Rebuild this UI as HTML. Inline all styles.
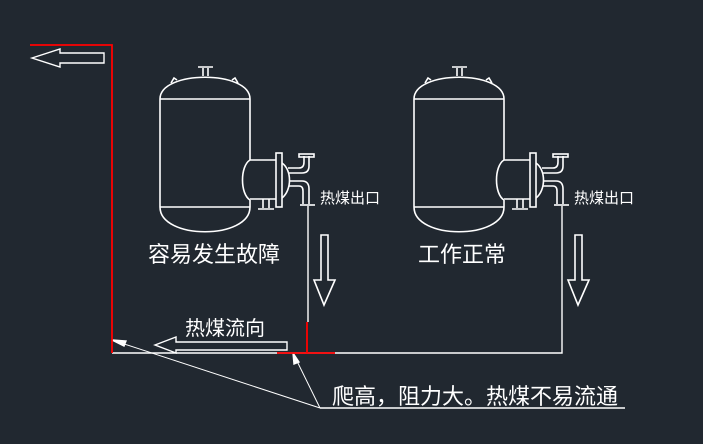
<!DOCTYPE html>
<html><head><meta charset="utf-8"><style>
html,body{margin:0;padding:0;background:#212830;}
svg{display:block}
text{font-family:"Liberation Sans","Noto Sans CJK SC","WenQuanYi Zen Hei",sans-serif;fill:#fff;font-weight:400}
</style></head><body>
<svg width="703" height="444" viewBox="0 0 703 444" xmlns="http://www.w3.org/2000/svg">
<rect width="703" height="444" fill="#212830"/>
<defs>
<g id="tank" fill="none" stroke="#fff" stroke-width="1.6">
  <path d="M414,99 L414,207 M504,99 L504,160 M504,200 L504,207"/>
  <path d="M414,99 C414,70 504,70 504,99"/>
  <path d="M414,207 C414,240 504,240 504,207"/>
  <path d="M414,99 L504,99 M414,207 L504,207"/>
  <path d="M457,76 L457,68 M462,76 L462,68 M452,67 L467,67"/>
  <path d="M425,83 L428,78 L431,80 M486,80 L489,78 L492,83"/>
  <path d="M504,160 C494,166 494,194 504,200"/>
  <path d="M504,160 L530,160 M504,199 L530,199"/>
  <rect x="530" y="153" width="6" height="54"/>
  <path d="M536,163 C546,170 546,190 536,198"/>
  <path d="M517,199 L517,208 M523,199 L523,208 M512,209 L528,209"/>
  <path d="M542,168 L553,168 Q558,168 558,162 L558,156 M543,173 L556,173 Q563,173 563,166 L563,156"/>
  <rect x="553" y="154" width="15" height="3"/>
  <path d="M543,181 L556,181 Q563,181 563,189 L563,204 M543,186 L553,186 Q557,186 557,191 L557,204"/>
  <path d="M554,205 L569,205"/>
  <path d="M575,235 L582,235 L582,280 L589,280 L578,305 L568,280 L575,280 Z"/>
</g>
</defs>
<use href="#tank"/>
<use href="#tank" transform="translate(-254,0)"/>
<g stroke="#fff" stroke-width="1.4" fill="none">
  <path d="M562,206 L562,353 L112,353"/>
  <path d="M308,206 L308,322"/>
  <path d="M32,58 L60,49 L60,53 L104,53 L104,63 L60,63 L60,67 Z"/>
  <path d="M155,345 L176,337 L176,342 L287,342 L287,350 L176,350 L176,353 Z"/>
  <path d="M320,408 L625,408"/>
  <path d="M320,408 L112,340 M320,408 L293,353" stroke-width="1"/>
  <path d="M112,340 L126,341 L124,346 Z" fill="#fff"/>
  <path d="M293,353 L294,364 L299,362 Z" fill="#fff"/>
</g>
<g stroke="#ff0000" stroke-width="1.8" fill="none">
  <path d="M30,45 L112,45 L112,353"/>
  <path d="M277,353 L335,353 M307,322 L307,353"/>
</g>
<text x="320" y="203" font-size="15">热煤出口</text>
<text x="574" y="203" font-size="15">热煤出口</text>
<text x="148" y="262" font-size="22">容易发生故障</text>
<text x="418" y="262" font-size="22">工作正常</text>
<text x="185" y="335" font-size="20">热煤流向</text>
<text x="332" y="404" font-size="22">爬高，阻力大。热煤不易流通</text>
</svg>
</body></html>
